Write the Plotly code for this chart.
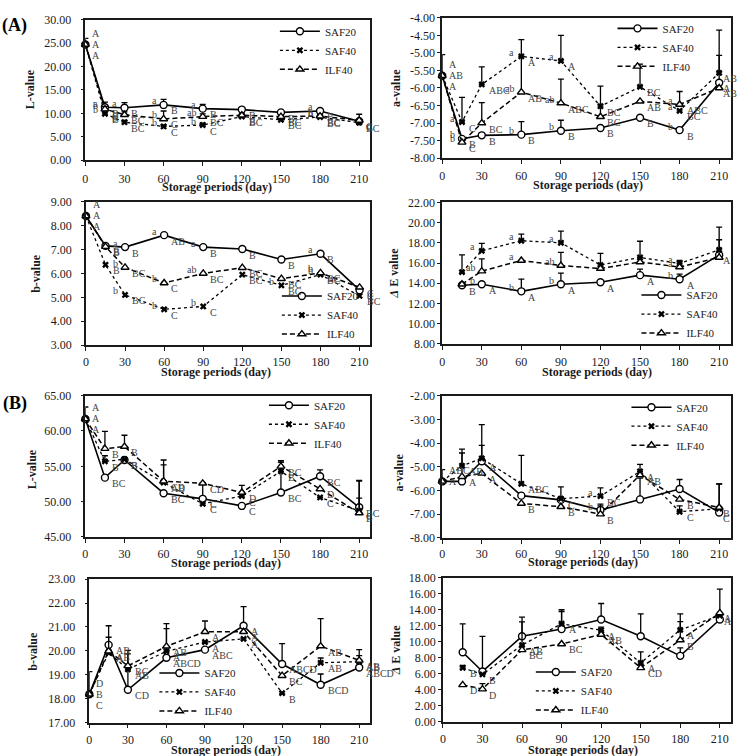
import plotly.graph_objects as go

# ------------------------------------------------------------------ data
DAYS = [0, 15, 30, 60, 90, 120, 150, 180, 210]
DAYS_DE = [15, 30, 60, 90, 120, 150, 180, 210]
SERIES = ["SAF20", "SAF40", "ILF40"]
X_TICKS = [0, 30, 60, 90, 120, 150, 180, 210]

# (A) L-value
A_L_SAF20 = [24.7, 11.3, 11.2, 11.8, 11.0, 10.8, 10.2, 10.5, 8.3]
A_L_SAF40 = [24.7, 9.9, 8.1, 7.2, 7.5, 9.3, 8.6, 9.2, 8.0]
A_L_ILF40 = [24.7, 10.9, 9.7, 8.8, 9.3, 9.6, 9.3, 9.4, 8.5]
A_L_ERR_SAF20 = [1.3, 1.1, 1.1, 1.2, 0.9, 0.3, 0.3, 0.3, 0.2]
A_L_ERR_SAF40 = [0, 0.4, 0.4, 0.3, 0.4, 0.4, 0.4, 0.4, 0.3]
A_L_ERR_ILF40 = [0, 0.6, 0.6, 1.7, 0.6, 0.4, 0.3, 0.3, 1.3]
A_L_UP_SAF20 = ["A", "B", "B", "B", "B", "B", "B", "B", "C"]
A_L_UP_SAF40 = ["A", "B", "BC", "C", "C", "BC", "BC", "BC", "BC"]
A_L_UP_ILF40 = ["A", "B", "BC", "C", "BC", "B", "BC", "BC", "C"]
A_L_LOW_SAF20 = ["", "a", "a", "a", "a", "", "", "a", ""]
A_L_LOW_SAF40 = ["", "b", "b", "b", "b", "", "", "b", ""]
A_L_LOW_ILF40 = ["", "b", "", "b", "ab", "", "", "b", ""]

# (A) a-value
A_A_SAF20 = [-5.65, -7.45, -7.35, -7.33, -7.22, -7.14, -6.85, -7.2, -5.85]
A_A_SAF40 = [-5.65, -6.97, -5.9, -5.1, -5.23, -6.52, -5.97, -6.65, -5.57]
A_A_ILF40 = [-5.65, -7.55, -7.0, -6.12, -6.43, -6.82, -6.38, -6.47, -6.0]
A_A_ERR_SAF20 = [0.6, 0, 0, 0.37, 0.3, 0, 0, 0, 1.5]
A_A_ERR_SAF40 = [0, 0.7, 0.5, 0, 0.73, 0, 0.65, 0, 0.5]
A_A_ERR_ILF40 = [0, 0, 0.58, 1.5, 0.68, 0.87, 0, 0.37, 0]
A_A_UP_SAF20 = ["A", "B", "B", "B", "B", "B", "B", "B", "A"]
A_A_UP_SAF40 = ["AB", "C", "ABC", "A", "A", "BC", "BC", "BC", "AB"]
A_A_UP_ILF40 = ["A", "C", "BC", "AB", "ABC", "BC", "AB", "ABC", "AB"]
A_A_LOW_SAF20 = ["", "b", "", "b", "b", "", "", "b", ""]
A_A_LOW_SAF40 = ["", "a", "", "a", "a", "", "", "a", ""]
A_A_LOW_ILF40 = ["", "b", "", "ab", "ab", "", "", "a", ""]

# (A) b-value
A_B_SAF20 = [8.4, 7.15, 7.1, 7.6, 7.1, 7.02, 6.58, 6.82, 5.3]
A_B_SAF40 = [8.4, 6.36, 5.1, 4.5, 4.62, 5.95, 5.5, 5.95, 5.06]
A_B_ILF40 = [8.4, 7.12, 6.25, 5.6, 6.0, 6.24, 5.78, 6.02, 5.42]
A_B_UP_SAF20 = ["A", "B", "B", "AB", "B", "B", "B", "B", "C"]
A_B_UP_SAF40 = ["A", "B", "BC", "C", "C", "BC", "BC", "BC", "BC"]
A_B_UP_ILF40 = ["A", "B", "BC", "C", "BC", "BC", "BC", "BC", "C"]
A_B_LOW_SAF20 = ["", "", "a", "a", "a", "", "", "a", ""]
A_B_LOW_SAF40 = ["", "", "b", "b", "b", "", "b", "b", ""]
A_B_LOW_ILF40 = ["", "", "b", "b", "ab", "", "", "b", ""]

# (A) Delta E
A_E_SAF20 = [13.8, 13.9, 13.2, 13.9, 14.1, 14.8, 14.4, 16.8]
A_E_SAF40 = [15.1, 17.2, 18.2, 18.0, 15.8, 16.55, 15.95, 17.3]
A_E_ILF40 = [13.9, 15.2, 16.25, 15.75, 15.45, 16.1, 15.6, 16.55]
A_E_ERR_SAF20 = [0, 0, 1.2, 1.1, 0, 0.6, 0.5, 0]
A_E_ERR_SAF40 = [1.7, 0.75, 0.65, 1.15, 1.15, 1.6, 0.3, 2.25]
A_E_ERR_ILF40 = [0, 1.2, 0, 1.3, 0, 0, 0, 1.75]
A_E_UP_SAF20 = ["B", "A", "A", "A", "A", "A", "A", "A"]
A_E_LOW_SAF20 = ["", "b", "b", "b", "", "", "b", ""]
A_E_LOW_SAF40 = ["", "a", "a", "a", "", "", "a", ""]
A_E_LOW_ILF40 = ["", "ab", "a", "ab", "", "", "a", ""]

# (B) L-value
B_L_SAF20 = [61.7, 53.4, 55.9, 51.2, 50.4, 49.4, 51.3, 53.6, 49.2]
B_L_SAF40 = [61.7, 55.7, 56.0, 52.7, 49.7, 50.8, 54.3, 50.6, 48.7]
B_L_ILF40 = [61.7, 57.5, 57.8, 52.9, 52.6, 51.3, 55.0, 51.8, 48.4]
B_L_ERR_SAF20 = [1.7, 0, 0, 0, 2.3, 0, 4.5, 0.9, 3.8]
B_L_ERR_SAF40 = [0, 0.8, 0, 2.5, 0, 0, 1.3, 0, 1.8]
B_L_ERR_ILF40 = [0, 2.45, 1.6, 3.0, 0, 1.0, 0.6, 0, 4.5]
B_L_UP_SAF20 = ["A", "BC", "B", "BC", "C", "C", "BC", "BC", "BC"]
B_L_UP_SAF40 = ["A", "B", "B", "AB", "C", "C", "B", "C", "C"]
B_L_UP_ILF40 = ["A", "B", "B", "CD", "CD", "D", "BC", "D", "E"]

# (B) a-value
B_A_SAF20 = [-5.62, -5.62, -4.77, -6.22, -6.4, -6.83, -6.38, -5.94, -6.93]
B_A_SAF40 = [-5.62, -4.96, -4.65, -5.72, -6.35, -6.24, -5.2, -6.9, -6.77]
B_A_ILF40 = [-5.62, -5.42, -5.28, -6.55, -6.69, -7.0, -5.35, -6.38, -6.72]
B_A_ERR_SAF20 = [0.5, 0, 1.55, 0, 0.55, 0.25, 0.9, 0.4, 1.2]
B_A_ERR_SAF40 = [0, 0.7, 0.55, 1.2, 0, 0.35, 0.3, 0.25, 0]
B_A_ERR_ILF40 = [0, 1.0, 0, 0, 0, 0.35, 0, 0, 1.0]
B_A_UP_SAF20 = ["ABC", "", "A", "", "C", "", "", "", "C"]
B_A_UP_SAF40 = ["A", "AB", "", "ABC", "", "BC", "A", "C", ""]
B_A_UP_ILF40 = ["", "A", "A", "B", "B", "B", "AB", "B", "B"]
B_A_LOW_SAF20 = ["", "", "", "", "", "b", "", "", ""]
B_A_LOW_SAF40 = ["", "", "", "", "", "a", "", "", ""]

# (B) b-value
B_B_SAF20 = [18.18, 20.25, 18.37, 19.71, 20.05, 21.05, 19.45, 18.58, 19.3]
B_B_SAF40 = [18.18, 19.92, 19.23, 19.98, 20.37, 20.5, 18.23, 19.5, 19.55]
B_B_ILF40 = [18.18, 19.99, 19.37, 20.19, 20.8, 20.8, 18.96, 20.2, 19.6]
B_B_ERR_SAF20 = [0.95, 0.8, 1.65, 0, 0, 0.8, 0.85, 0.45, 0]
B_B_ERR_SAF40 = [0, 0.65, 0, 0.95, 0, 0, 0, 0.2, 0.25]
B_B_ERR_ILF40 = [0, 0, 0.5, 0.95, 0.45, 0, 0, 1.15, 0.45]
B_B_UP_SAF20 = ["D", "AB", "CD", "ABCD", "ABC", "A", "ABCD", "BCD", "ABCD"]
B_B_UP_SAF40 = ["B", "A", "AB", "A", "A", "A", "B", "AB", "AB"]
B_B_UP_ILF40 = ["C", "AB", "BC", "AB", "A", "A", "BC", "AB", "AB"]

# (B) Delta E
B_E_SAF20 = [8.7, 6.3, 10.7, 11.6, 12.8, 10.7, 8.25, 12.8]
B_E_SAF40 = [6.75, 5.93, 9.6, 12.27, 11.45, 7.36, 11.5, 13.3]
B_E_ILF40 = [4.62, 4.09, 9.0, 9.74, 10.92, 6.75, 10.23, 13.62]
B_E_ERR_SAF20 = [3.55, 4.4, 2.4, 2.2, 2.0, 2.8, 1.0, 3.8]
B_E_ERR_SAF40 = [0.3, 0, 2.9, 1.75, 0.4, 1.4, 2.0, 0]
B_E_ERR_ILF40 = [0, 0.7, 0, 0, 0, 0, 2.3, 0]
B_E_UP_SAF40 = ["B", "B", "AB", "A", "A", "A", "A", "A"]
B_E_UP_ILF40 = ["D", "D", "BC", "BC", "AB", "CD", "B", "A"]

NONE9 = [""] * 9
NONE8 = [""] * 8

PANELS = [
    dict(days=DAYS, vals=[A_L_SAF20, A_L_SAF40, A_L_ILF40],
         errs=[A_L_ERR_SAF20, A_L_ERR_SAF40, A_L_ERR_ILF40],
         ups=[A_L_UP_SAF20, A_L_UP_SAF40, A_L_UP_ILF40],
         lows=[A_L_LOW_SAF20, A_L_LOW_SAF40, A_L_LOW_ILF40],
         ytitle="L-value", yrange=(0, 30), ystep=5),
    dict(days=DAYS, vals=[A_A_SAF20, A_A_SAF40, A_A_ILF40],
         errs=[A_A_ERR_SAF20, A_A_ERR_SAF40, A_A_ERR_ILF40],
         ups=[A_A_UP_SAF20, A_A_UP_SAF40, A_A_UP_ILF40],
         lows=[A_A_LOW_SAF20, A_A_LOW_SAF40, A_A_LOW_ILF40],
         ytitle="a-value", yrange=(-8, -4), ystep=0.5),
    dict(days=DAYS, vals=[A_B_SAF20, A_B_SAF40, A_B_ILF40],
         errs=None,
         ups=[A_B_UP_SAF20, A_B_UP_SAF40, A_B_UP_ILF40],
         lows=[A_B_LOW_SAF20, A_B_LOW_SAF40, A_B_LOW_ILF40],
         ytitle="b-value", yrange=(3, 9), ystep=1),
    dict(days=DAYS_DE, vals=[A_E_SAF20, A_E_SAF40, A_E_ILF40],
         errs=[A_E_ERR_SAF20, A_E_ERR_SAF40, A_E_ERR_ILF40],
         ups=[A_E_UP_SAF20, NONE8, NONE8],
         lows=[A_E_LOW_SAF20, A_E_LOW_SAF40, A_E_LOW_ILF40],
         ytitle="<i>Δ</i> E value", yrange=(8, 22), ystep=2),
    dict(days=DAYS, vals=[B_L_SAF20, B_L_SAF40, B_L_ILF40],
         errs=[B_L_ERR_SAF20, B_L_ERR_SAF40, B_L_ERR_ILF40],
         ups=[B_L_UP_SAF20, B_L_UP_SAF40, B_L_UP_ILF40],
         lows=[NONE9, NONE9, NONE9],
         ytitle="L-value", yrange=(45, 65), ystep=5),
    dict(days=DAYS, vals=[B_A_SAF20, B_A_SAF40, B_A_ILF40],
         errs=[B_A_ERR_SAF20, B_A_ERR_SAF40, B_A_ERR_ILF40],
         ups=[B_A_UP_SAF20, B_A_UP_SAF40, B_A_UP_ILF40],
         lows=[B_A_LOW_SAF20, B_A_LOW_SAF40, NONE9],
         ytitle="a-value", yrange=(-8, -2), ystep=1),
    dict(days=DAYS, vals=[B_B_SAF20, B_B_SAF40, B_B_ILF40],
         errs=[B_B_ERR_SAF20, B_B_ERR_SAF40, B_B_ERR_ILF40],
         ups=[B_B_UP_SAF20, B_B_UP_SAF40, B_B_UP_ILF40],
         lows=[NONE9, NONE9, NONE9],
         ytitle="b-value", yrange=(17, 23), ystep=1),
    dict(days=DAYS_DE, vals=[B_E_SAF20, B_E_SAF40, B_E_ILF40],
         errs=[B_E_ERR_SAF20, B_E_ERR_SAF40, B_E_ERR_ILF40],
         ups=[NONE8, B_E_UP_SAF40, B_E_UP_ILF40],
         lows=[NONE8, NONE8, NONE8],
         ytitle="<i>Δ</i> E value", yrange=(0, 18), ystep=2),
]

# ------------------------------------------------------------------ layout geometry (pixels)
W, H = 738, 756
# plot box: x0, x1, ytop, ybottom, x-range max
GEOM = [
    (82.7, 368.5, 13.0, 156.0, 218.3),
    (441.0, 731.0, 11.0, 154.0, 219.0),
    (83.3, 368.5, 198.3, 344.6, 218.0),
    (441.0, 731.0, 199.0, 343.3, 219.0),
    (82.7, 368.5, 396.0, 540.0, 218.3),
    (441.0, 731.0, 396.0, 540.8, 219.0),
    (86.7, 368.5, 583.0, 729.0, 218.4),
    (441.7, 731.0, 581.7, 728.3, 218.5),
]
YTITLE_POS = [(28, 84), (395, 82), (33, 271), (393, 271),
              (29, 471), (398, 474), (30, 656), (394, 655)]
XTITLE_POS = [(215, 183), (587, 181), (214, 372), (596, 372),
              (224, 566), (582, 565), (224, 757), (582, 757)]
LEGEND_POS = [(273, 10, "top"), (612, 7, "top"), (275, 348, "bottom"),
              (636, 347, "bottom"), (262, 391, "top"), (626, 393, "top"),
              (152, 732, "bottom"), (530, 731, "bottom")]
XLAB_STANDOFF = [3, 2, 1, 2, 1, 0, 1, 1]

FONT = "Liberation Serif"
INK = "#1a1a1a"

STYLE = {
    "SAF20": dict(line=dict(color="black", width=1.6, dash="solid"),
                  marker=dict(symbol="circle", size=7, color="white",
                              line=dict(color="black", width=1.4))),
    "SAF40": dict(line=dict(color="black", width=1.3, dash="dot"),
                  marker=dict(symbol="x", size=6, color="black",
                              line=dict(width=0))),
    "ILF40": dict(line=dict(color="black", width=1.5, dash="5px,3px"),
                  marker=dict(symbol="triangle-up", size=7, color="white",
                              line=dict(color="black", width=1.4))),
}


def ticks(lo, hi, step):
    n = int(round((hi - lo) / step))
    vals = [lo + k * step for k in range(n + 1)]
    return vals, [f"{v:.2f}" for v in vals]


fig = go.Figure()
annotations = []
layout = dict(width=W, height=H, margin=dict(l=0, r=0, t=0, b=0),
              paper_bgcolor="white", plot_bgcolor="white", showlegend=True,
              font=dict(family=FONT, size=11, color=INK))

for p_idx, (panel, geom) in enumerate(zip(PANELS, GEOM)):
    k = p_idx + 1
    sx = "" if k == 1 else str(k)
    xref, yref = "x" + sx, "y" + sx
    leg = "legend" + sx
    x0, x1, yt, yb, xmax = geom

    layout["xaxis" + sx] = dict(
        domain=[x0 / W, x1 / W], anchor=yref, range=[0, xmax],
        tickvals=X_TICKS, ticks="outside", ticklen=4, tickwidth=1,
        tickcolor=INK, showline=True, mirror=True, linecolor=INK,
        linewidth=1.5, showgrid=False, zeroline=False,
        ticklabelstandoff=XLAB_STANDOFF[p_idx],
        tickfont=dict(family=FONT, size=12, color=INK))
    tv, tt = ticks(panel["yrange"][0], panel["yrange"][1], panel["ystep"])
    left_col = x0 < 300
    layout["yaxis" + sx] = dict(
        domain=[1 - yb / H, 1 - yt / H], anchor=xref,
        range=list(panel["yrange"]), tickvals=tv, ticktext=tt,
        ticks="outside", ticklen=3, tickwidth=1, tickcolor=INK,
        showline=True, mirror=True, linecolor=INK, linewidth=1.5,
        showgrid=False, zeroline=False,
        ticklabelstandoff=7 if left_col else 0,
        tickfont=dict(family=FONT, size=12, color=INK))

    lx, ly, lanchor = LEGEND_POS[p_idx]
    layout[leg] = dict(x=lx / W, y=1 - ly / H, xanchor="left", yanchor=lanchor,
                       bgcolor="rgba(0,0,0,0)", borderwidth=0,
                       tracegroupgap=0, itemwidth=40,
                       font=dict(family=FONT, size=11, color="#222"))

    days = panel["days"]
    for s, name in enumerate(SERIES):
        st = STYLE[name]
        tr = dict(x=days, y=panel["vals"][s], mode="lines+markers", name=name,
                  xaxis=xref, yaxis=yref, legend=leg, cliponaxis=False,
                  line=st["line"], marker=st["marker"])
        if panel["errs"] is not None:
            e = [v if v > 0 else None for v in panel["errs"][s]]
            tr["error_y"] = dict(type="data", symmetric=False, array=e,
                                 color="black", thickness=1.3, width=3)
        fig.add_trace(go.Scatter(**tr))

    # significance letters
    lf = dict(family=FONT, size=10, color="#444444")
    for s in range(3):
        for i, d in enumerate(days):
            v = panel["vals"][s][i]
            stacked = all(abs(panel["vals"][q][i] - v) < 1e-9 for q in range(3))
            up = panel["ups"][s][i]
            lo = panel["lows"][s][i]
            last_right = (not left_col) and d == days[-1]
            if up:
                annotations.append(dict(
                    x=d, y=v, xref=xref, yref=yref, text=up, showarrow=False,
                    xanchor="left", yanchor="middle",
                    xshift=2 if last_right else 5,
                    yshift=(11 - 11 * s) if stacked else -6, font=lf))
            if lo:
                annotations.append(dict(
                    x=d, y=v, xref=xref, yref=yref, text=lo, showarrow=False,
                    xanchor="right", yanchor="middle", xshift=-5, yshift=4,
                    font=lf))

    tx, ty = YTITLE_POS[p_idx]
    annotations.append(dict(x=tx / W, y=1 - ty / H, xref="paper", yref="paper",
                            text="<b>" + panel["ytitle"] + "</b>", showarrow=False,
                            textangle=-90, xanchor="center", yanchor="middle",
                            font=dict(family=FONT, size=12, color=INK)))
    tx, ty = XTITLE_POS[p_idx]
    annotations.append(dict(x=tx / W, y=1 - ty / H, xref="paper", yref="paper",
                            text="<b>Storage periods (day)</b>", showarrow=False,
                            xanchor="center", yanchor="middle",
                            font=dict(family=FONT, size=12, color=INK)))

for lbl, yy in (("(A)", 19), ("(B)", 404)):
    annotations.append(dict(x=26 / W, y=1 - yy / H, xref="paper", yref="paper",
                            text="<b>" + lbl + "</b>", showarrow=False,
                            xanchor="right", yanchor="middle",
                            font=dict(family=FONT, size=18, color="black")))

layout["annotations"] = annotations
fig.update_layout(**layout)
fig.write_html("out.html")
